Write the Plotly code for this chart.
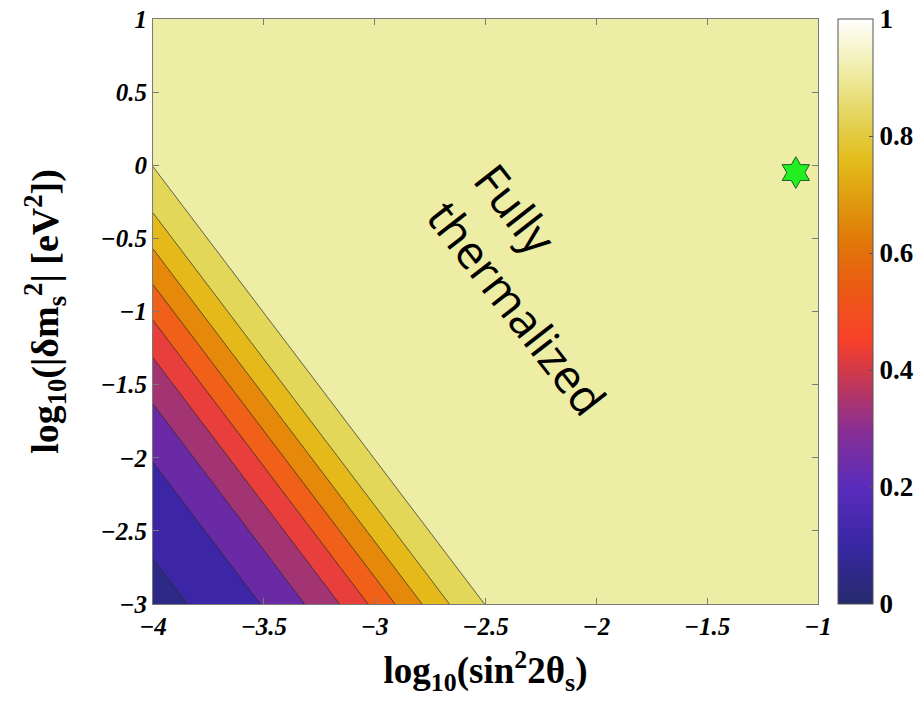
import numpy as np
import plotly.graph_objects as go

# Contour levels of the thermalized fraction
levels = [0.1, 0.2, 0.3, 0.4, 0.5, 0.6, 0.7, 0.8, 0.9]
# Where each contour line meets the bottom edge, log10(dm^2) = -3
cross_x_bottom = [-3.845, -3.515, -3.316, -3.158, -3.030, -2.908, -2.786, -2.663, -2.505]
# Contours are straight lines of slope d(log dm^2)/d(log sin^2) = -2
line_slope = -2.0
# Field value in the bottom-left corner and on the thermalized plateau
corner_value = 0.03
plateau_value = 1.0

# Star marker: reference point
star_x = [-1.10]
star_y = [-0.05]

x_ticks = [-4, -3.5, -3, -2.5, -2, -1.5, -1]
y_ticks = [-3, -2.5, -2, -1.5, -1, -0.5, 0, 0.5, 1]
cbar_ticks = [0, 0.2, 0.4, 0.6, 0.8, 1]

# Fill colour of each band, from below 0.1 up to above 0.9
band_colors = ["#2c2a86", "#3d26a6", "#6a29a5", "#a23474", "#e83e3c",
               "#f06018", "#e6890a", "#e6b91a", "#e3d75a", "#eeeda5"]

# Continuous colour scale shown on the colour bar
cbar_scale = [
    [0.00, "#252a6c"], [0.10, "#3827a4"], [0.20, "#5a2cbc"],
    [0.30, "#8a2f92"], [0.40, "#d23a48"], [0.45, "#f8402a"],
    [0.55, "#ea5e12"], [0.62, "#e07808"], [0.70, "#e0a010"],
    [0.76, "#e3bd1c"], [0.82, "#e2d050"], [0.90, "#eeea9c"],
    [1.00, "#ffffff"],
]


def tick_label(v):
    s = f"{abs(v):g}"
    return "<i>" + ("−" + s if v < 0 else s) + "</i>"


# Grid evaluation of the field from the measured contour positions
gx = np.linspace(-4, -1, 601)
gy = np.linspace(-3, 1, 801)
X, Y = np.meshgrid(gx, gy)
# position along the bottom edge reached by following a contour line
U = X + (Y + 3.0) / (-line_slope)
ux = [-4.2] + cross_x_bottom + [-2.3]
uz = [corner_value] + levels + [plateau_value]
Z = np.interp(U, ux, uz)

n = len(band_colors)
band_scale = [[i / (n - 1), c] for i, c in enumerate(band_colors)]

serif = "Liberation Serif"

fig = go.Figure()
fig.add_trace(go.Contour(
    x=gx, y=gy, z=Z,
    contours=dict(start=levels[0], end=levels[-1], size=0.1, coloring="fill"),
    colorscale=band_scale,
    line=dict(color="#2a2a2a", width=0.8),
    showscale=False,
    hoverinfo="skip",
))
# Carrier for the continuous colour bar
fig.add_trace(go.Scatter(
    x=[-2.5, -2.5], y=[0.5, 0.5], mode="markers",
    marker=dict(color=[0, 1], cmin=0, cmax=1, colorscale=cbar_scale,
                opacity=0, size=1, showscale=True,
                colorbar=dict(
                    x=1.030, xanchor="left", xpad=0, ypad=0,
                    y=0.5, yanchor="middle", len=1, lenmode="fraction",
                    thickness=35, outlinewidth=1, outlinecolor="#555555",
                    tickvals=cbar_ticks, ticktext=[f"{t:g}" for t in cbar_ticks],
                    ticks="inside", ticklen=4, tickcolor="#555555",
                    tickfont=dict(family=serif, size=27, color="black", weight="bold"),
                )),
    hoverinfo="skip", showlegend=False,
))
fig.add_trace(go.Scatter(
    x=star_x, y=star_y, mode="markers",
    marker=dict(symbol="hexagram", size=24, color="#22ee22",
                line=dict(color="#1f5f1f", width=1)),
    showlegend=False, hoverinfo="skip",
))

fig.add_annotation(
    x=-2.25, y=-0.846, xref="x", yref="y",
    text="Fully<br>thermalized", showarrow=False, textangle=52, align="left",
    font=dict(family="Open Sans", size=46, color="black"),
)

tickfont = dict(family=serif, size=25, color="black", weight="bold", style="italic")
axis_common = dict(
    showline=True, linecolor="#7a7a7a", linewidth=1, mirror="ticks",
    ticks="inside", ticklen=6, tickcolor="#7a7a7a",
    showgrid=False, zeroline=False, tickfont=tickfont,
)
fig.update_xaxes(
    range=[-4, -1], tickvals=x_ticks, ticktext=[tick_label(t) for t in x_ticks],
    title=dict(text="log<sub>10</sub>(sin<sup>2</sup>2θ<sub>s</sub>)", standoff=18,
               font=dict(family=serif, size=37, color="black", weight="bold")),
    **axis_common,
)
fig.update_yaxes(
    range=[-3, 1], tickvals=y_ticks, ticktext=[tick_label(t) for t in y_ticks],
    title=dict(text="log<sub>10</sub>(|δm<sub>s</sub><sup>2</sup>| [eV<sup>2</sup>])", standoff=30,
               font=dict(family=serif, size=38, color="black", weight="bold")),
    **axis_common,
)
fig.update_layout(
    width=920, height=701,
    margin=dict(l=153, r=102, t=19, b=97, autoexpand=False),
    paper_bgcolor="white", plot_bgcolor="white",
    showlegend=False,
)
fig.write_html("out.html")
